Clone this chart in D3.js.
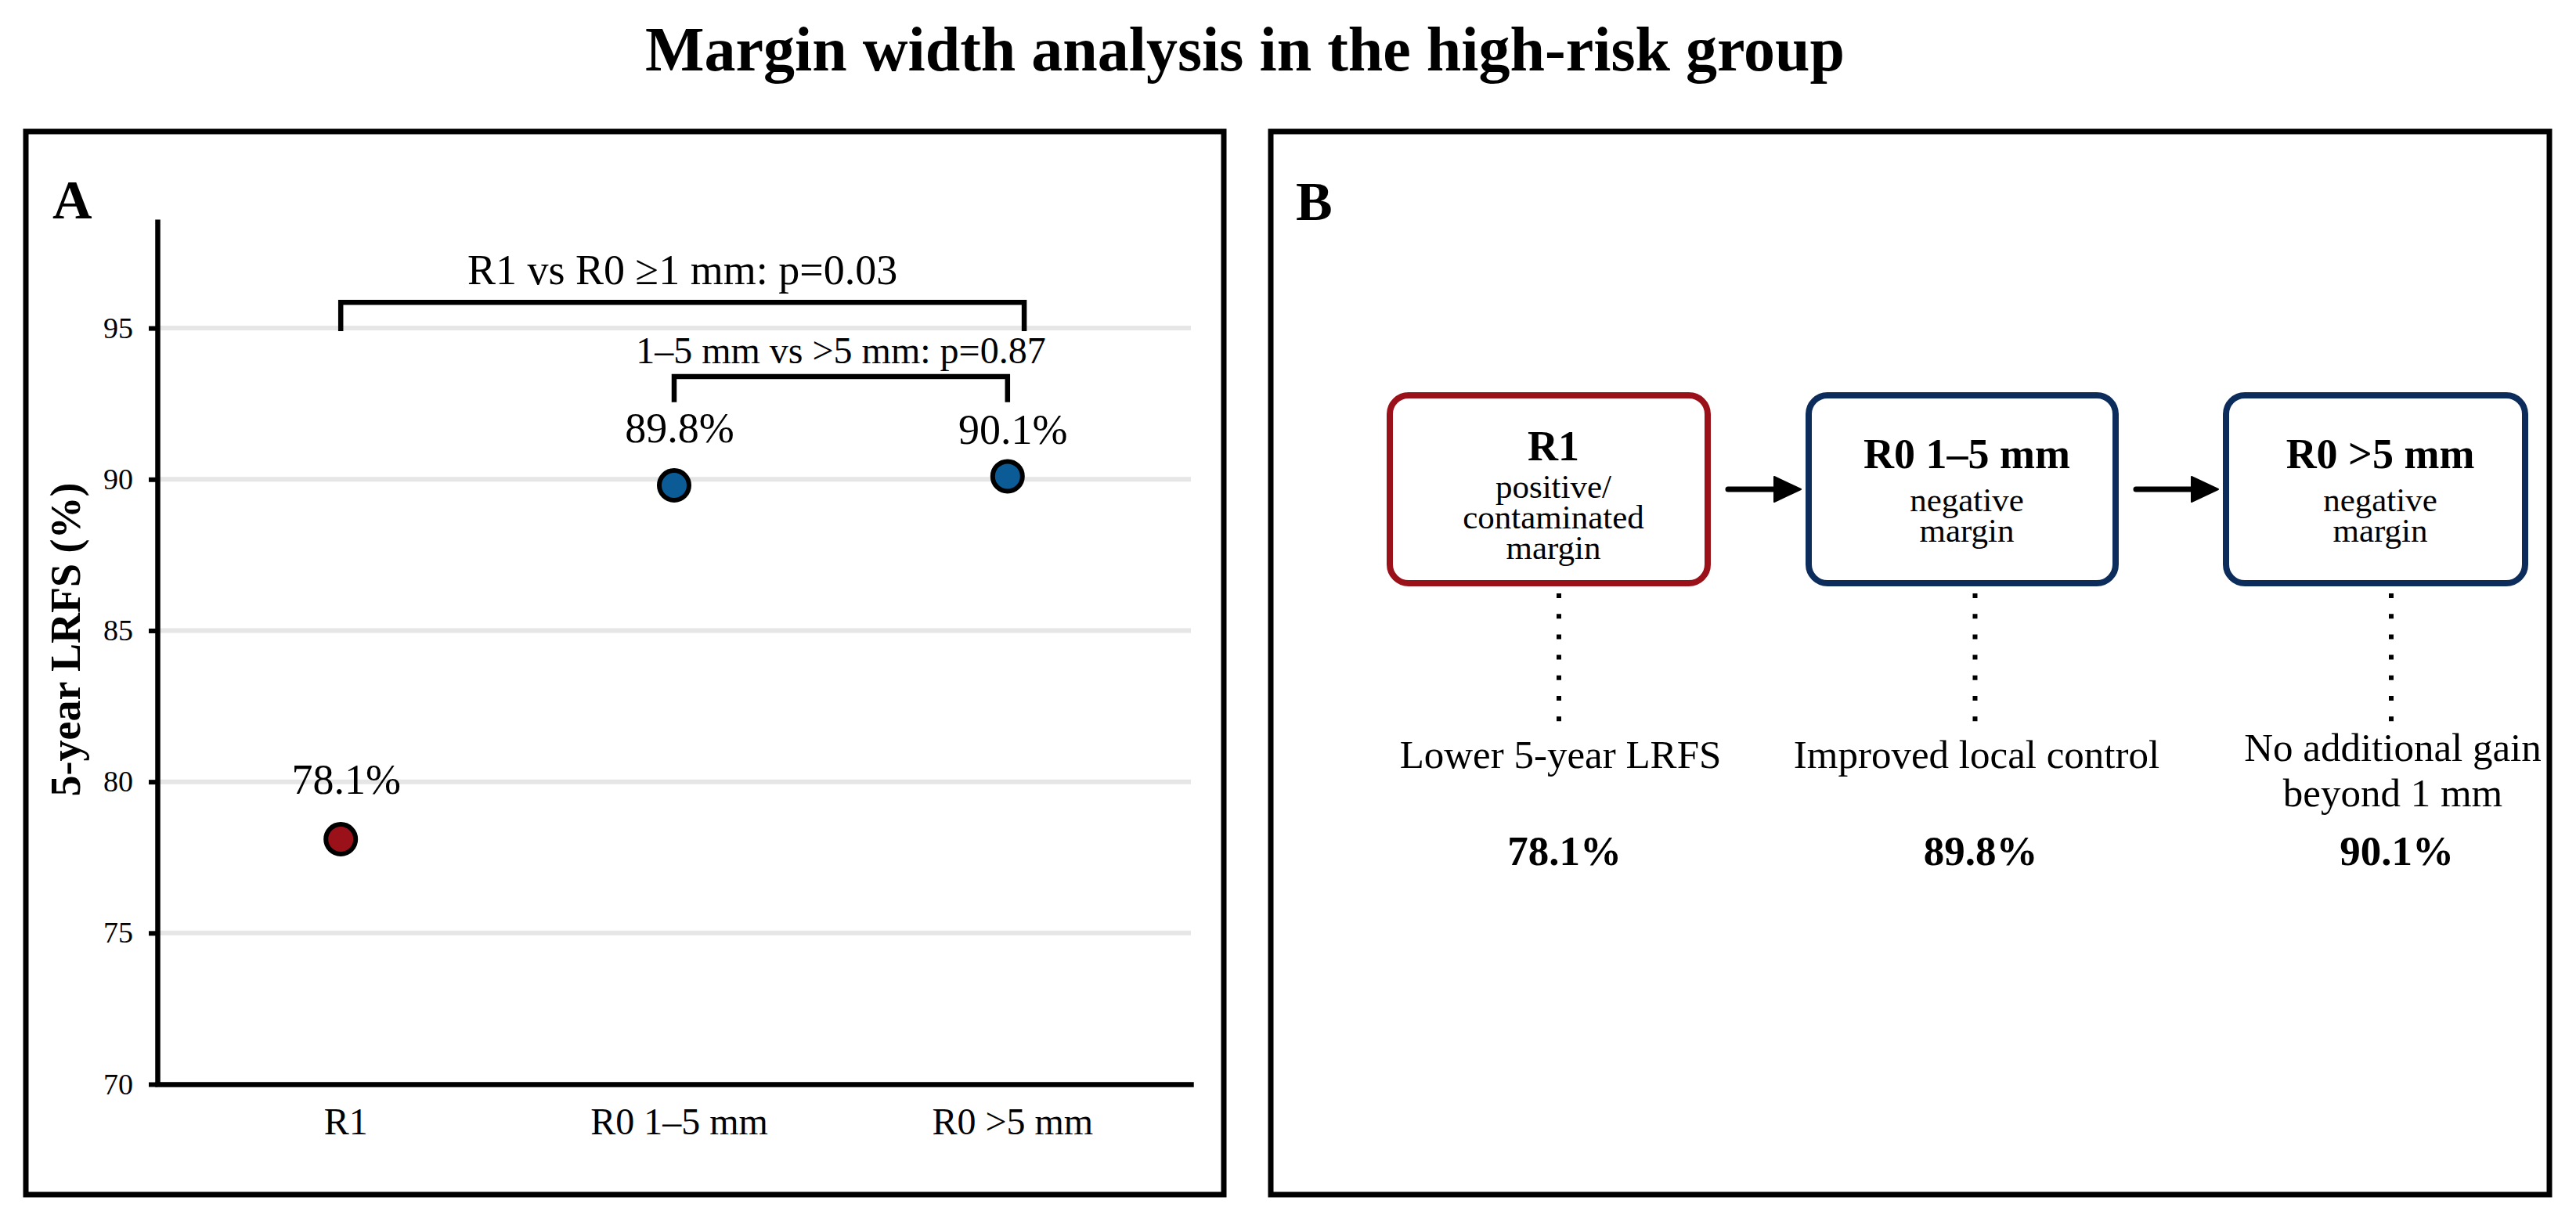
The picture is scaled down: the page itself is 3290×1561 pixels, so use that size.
<!DOCTYPE html>
<html>
<head>
<meta charset="utf-8">
<script src="https://cdn.jsdelivr.net/npm/d3@7"></script>
<style>
  body { margin: 0; background: #fff; }
  text { font-family: "Liberation Serif", "Times New Roman", serif; fill: #000; }
</style>
</head>
<body>
<div id="chart"></div>
<script>
// ---- data ----
const categories = ["R1", "R0 1–5 mm", "R0 >5 mm"];
const lrfs = [78.1, 89.8, 90.1];
const valueLabels = ["78.1%", "89.8%", "90.1%"];
const yTicks = [70, 75, 80, 85, 90, 95];

// comparison brackets (category index span, bracket height in % units)
const compLabels = ["R1 vs R0 \u22651 mm: p=0.03", "1–5 mm vs >5 mm: p=0.87"];
const compFrom = [0, 1];
const compTo = [2.05, 2];
const compTop = [95.85, 93.4];
const compFoot = [94.9, 92.55];

// panel B flow
const boxTitles = ["R1", "R0 1–5 mm", "R0 >5 mm"];
const boxNotes = [["positive/", "contaminated", "margin"], ["negative", "margin"], ["negative", "margin"]];
const outcomes = [["Lower 5-year LRFS"], ["Improved local control"], ["No additional gain", "beyond 1 mm"]];
const outcomeValues = ["78.1%", "89.8%", "90.1%"];

// ---- styling ----
const W = 3290, H = 1561;
const red = "#9b1119", blue = "#0b5b96", navy = "#0c2d5c";
const pointFill = [red, blue, blue];
const boxStroke = [red, navy, navy];
const labelLift = [58, 55, 41];   // px above marker
const boxWidth = [406, 392, 382];

const svg = d3.select("#chart").append("svg")
  .attr("width", W).attr("height", H)
  .attr("viewBox", `0 0 ${W} ${H}`);

svg.append("rect").attr("width", W).attr("height", H).attr("fill", "#fff");

// title
svg.append("text")
  .attr("x", 1590).attr("y", 90)
  .attr("text-anchor", "middle")
  .attr("font-weight", "bold").attr("font-size", 80)
  .text("Margin width analysis in the high-risk group");

// panel frames
svg.append("rect").attr("x", 33).attr("y", 168).attr("width", 1530).attr("height", 1358)
  .attr("fill", "none").attr("stroke", "#000").attr("stroke-width", 7);
svg.append("rect").attr("x", 1623).attr("y", 168).attr("width", 1633).attr("height", 1358)
  .attr("fill", "none").attr("stroke", "#000").attr("stroke-width", 7);

svg.append("text").attr("x", 67).attr("y", 279)
  .attr("font-weight", "bold").attr("font-size", 70).text("A");
svg.append("text").attr("x", 1655).attr("y", 281)
  .attr("font-weight", "bold").attr("font-size", 70).text("B");

// ---- panel A ----
const x = d3.scaleLinear().domain([-0.55, 2.55]).range([201, 1521]);
const y = d3.scaleLinear().domain([70, 98.6]).range([1385, 280]);

const gA = svg.append("g");

// grid
gA.append("g").selectAll("line")
  .data(yTicks).enter()
  .append("line")
  .attr("x1", x.range()[0]).attr("x2", x.range()[1])
  .attr("y1", d => y(d)).attr("y2", d => y(d))
  .attr("stroke", "#e6e6e6").attr("stroke-width", 6);

// y axis
const yAxis = gA.append("g")
  .attr("transform", "translate(" + x.range()[0] + ",0)")
  .call(d3.axisLeft(y).tickValues(yTicks).tickSizeInner(11).tickSizeOuter(0).tickPadding(20));
yAxis.attr("font-family", null).attr("font-size", null);
yAxis.select(".domain").attr("stroke-width", 6.5);
yAxis.selectAll(".tick line").attr("stroke-width", 6);
yAxis.selectAll(".tick text").attr("font-size", 38);

// x axis
const xAxis = gA.append("g")
  .attr("transform", "translate(0," + y.range()[0] + ")")
  .call(d3.axisBottom(x).tickValues([0, 1, 2]).tickFormat(i => categories[i])
    .tickSize(0).tickPadding(30));
xAxis.attr("font-family", null).attr("font-size", null);
xAxis.select(".domain").attr("stroke-width", 6.5).attr("stroke-linecap", "square");
xAxis.selectAll(".tick text").attr("font-size", 48).attr("dx", 6);

// y label
svg.append("text")
  .attr("transform", "translate(102,817) rotate(-90)")
  .attr("text-anchor", "middle")
  .attr("font-weight", "bold").attr("font-size", 54)
  .text("5-year LRFS (%)");

// brackets
compLabels.forEach((lab, i) => {
  const x0 = x(compFrom[i]), x1 = x(compTo[i]);
  gA.append("path")
    .attr("d", `M${x0},${y(compFoot[i])} V${y(compTop[i])} H${x1} V${y(compFoot[i])}`)
    .attr("fill", "none").attr("stroke", "#000").attr("stroke-width", 6.5);
  gA.append("text")
    .attr("x", (x0 + x1) / 2).attr("y", y(compTop[i]) - (i === 0 ? 23 : 17))
    .attr("text-anchor", "middle")
    .attr("font-size", i === 0 ? 54 : 48)
    .text(lab);
});

// points
gA.append("g").selectAll("circle")
  .data(lrfs).enter()
  .append("circle")
  .attr("cx", (d, i) => x(i))
  .attr("cy", d => y(d))
  .attr("r", 19)
  .attr("fill", (d, i) => pointFill[i])
  .attr("stroke", "#000").attr("stroke-width", 6);

gA.append("g").selectAll("text")
  .data(lrfs).enter()
  .append("text")
  .attr("x", (d, i) => x(i) + 7)
  .attr("y", (d, i) => y(d) - labelLift[i])
  .attr("text-anchor", "middle")
  .attr("font-size", 54)
  .text((d, i) => valueLabels[i]);

// ---- panel B ----
const col = d3.scaleLinear().domain([0, 2]).range([1984, 3040]);
const low = d3.scaleLinear().domain([0, 2]).range([1991, 3054]);
const boxTop = 505, boxBot = 745, boxMid = (boxTop + boxBot) / 2;

const gB = svg.append("g");

boxTitles.forEach((t, i) => {
  const cx = col(i) - 6;
  gB.append("rect")
    .attr("x", cx - boxWidth[i] / 2).attr("y", boxTop)
    .attr("width", boxWidth[i]).attr("height", boxBot - boxTop)
    .attr("rx", 24).attr("ry", 24)
    .attr("fill", "#fff").attr("stroke", boxStroke[i]).attr("stroke-width", 8);

  const nSub = boxNotes[i].length;
  const titleY = boxMid - 27 - (nSub - 2) * 10;
  const subY0 = titleY + 55 - (nSub - 2) * 7;
  gB.append("text")
    .attr("x", col(i)).attr("y", titleY)
    .attr("text-anchor", "middle").attr("font-weight", "bold").attr("font-size", 54)
    .text(t);
  boxNotes[i].forEach((s, k) => {
    gB.append("text")
      .attr("x", col(i)).attr("y", subY0 + k * 39)
      .attr("text-anchor", "middle").attr("font-size", 43)
      .text(s);
  });

  // dotted connector
  gB.append("line")
    .attr("x1", low(i)).attr("x2", low(i))
    .attr("y1", 758).attr("y2", 922)
    .attr("stroke", "#000").attr("stroke-width", 6)
    .attr("stroke-dasharray", "6 20.2");

  const nOut = outcomes[i].length;
  outcomes[i].forEach((s, k) => {
    gB.append("text")
      .attr("x", low(i) + 2).attr("y", 981 - (nOut - 1) * 9 + k * 58)
      .attr("text-anchor", "middle").attr("font-size", 51)
      .text(s);
  });

  gB.append("text")
    .attr("x", low(i) + 7).attr("y", 1105)
    .attr("text-anchor", "middle").attr("font-weight", "bold").attr("font-size", 53)
    .text(outcomeValues[i]);

  // arrow to next box
  if (i < boxTitles.length - 1) {
    const xs = cx + boxWidth[i] / 2 + 26;
    const nx = col(i + 1) - 6 - boxWidth[i + 1] / 2 - 10;
    gB.append("line")
      .attr("x1", xs).attr("x2", nx - 30)
      .attr("y1", boxMid).attr("y2", boxMid)
      .attr("stroke", "#000").attr("stroke-width", 7).attr("stroke-linecap", "round");
    gB.append("path")
      .attr("d", `M${nx - 34},${boxMid - 16} L${nx},${boxMid} L${nx - 34},${boxMid + 16} Z`)
      .attr("fill", "#000").attr("stroke", "#000").attr("stroke-width", 2)
      .attr("stroke-linejoin", "round");
  }
});
</script>
</body>
</html>
